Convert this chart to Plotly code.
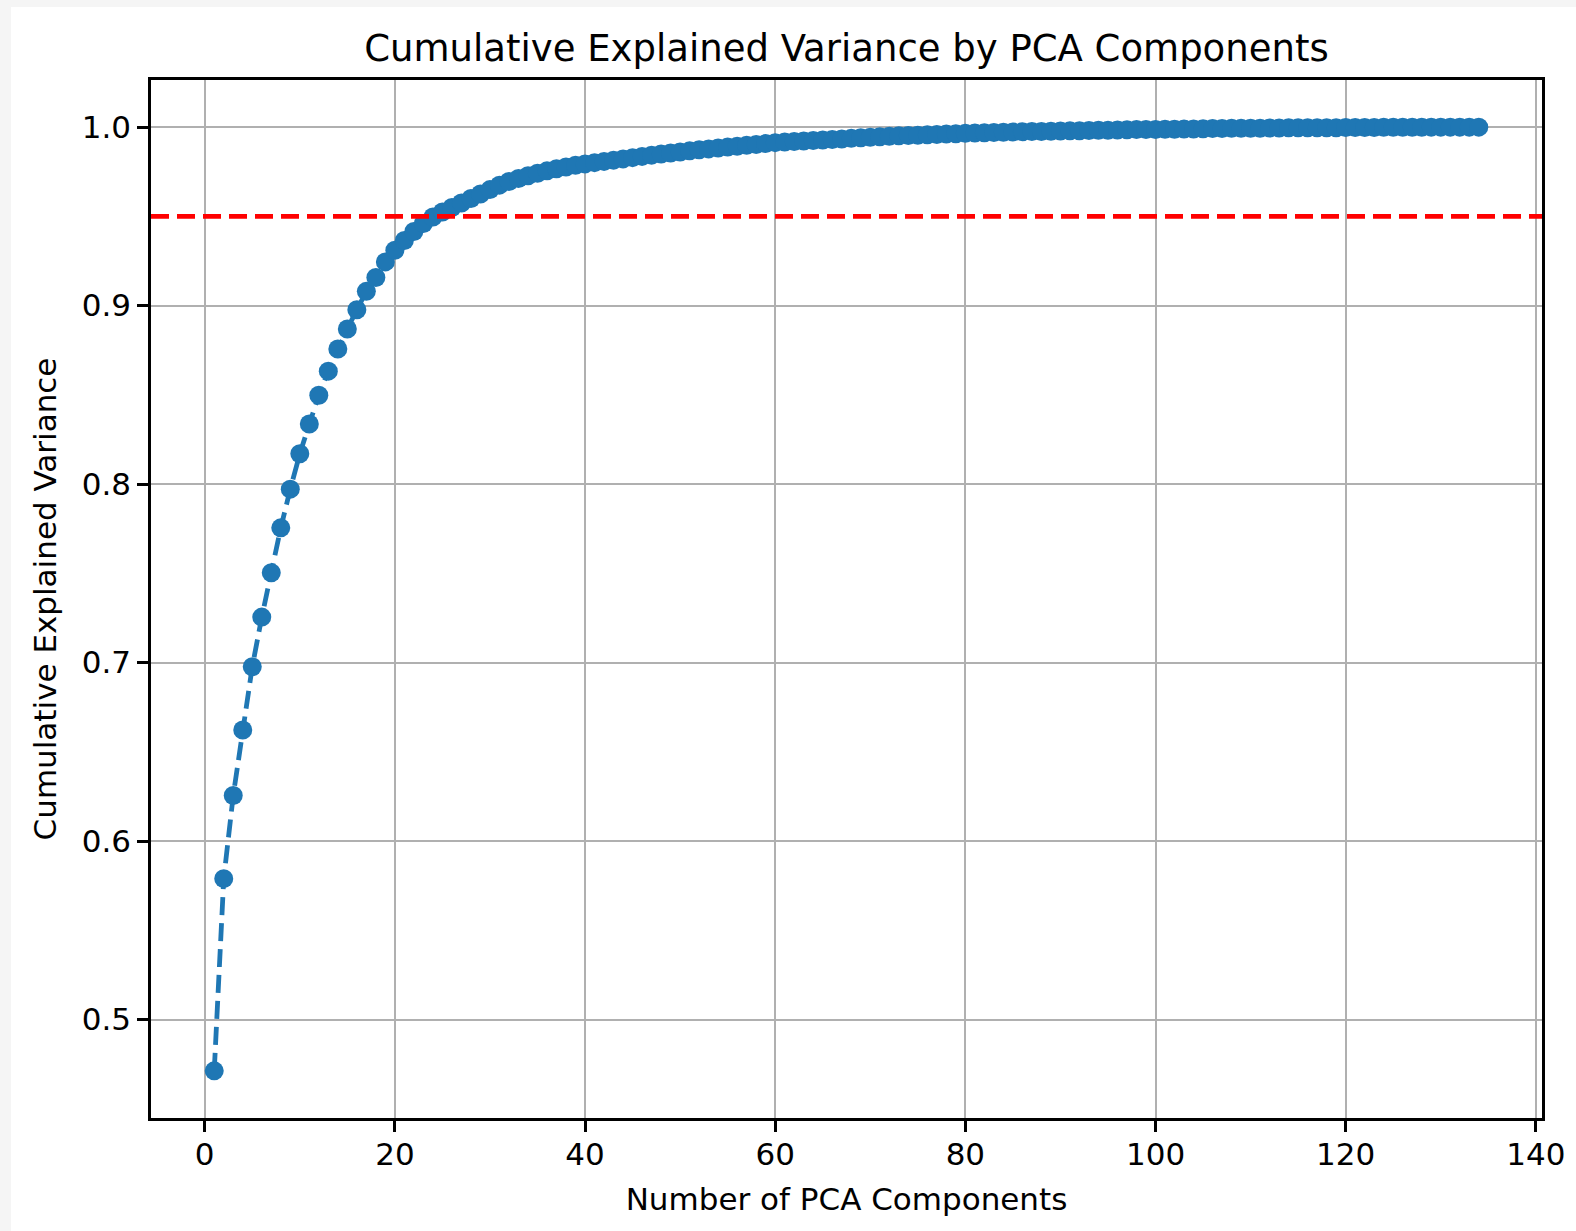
import plotly.graph_objects as go

components = list(range(1, 135))
cum_var = [
    0.4713, 0.5790, 0.6256, 0.6623, 0.6977, 0.7255, 0.7504, 0.7755, 0.7972, 0.8170,
    0.8337, 0.8498, 0.8633, 0.8757, 0.8869, 0.8977, 0.9080, 0.9158, 0.9245, 0.9310,
    0.9365, 0.9415, 0.9460, 0.9497, 0.9525, 0.9550, 0.9575, 0.9600, 0.9625, 0.9650,
    0.9675, 0.9695, 0.9712, 0.9728, 0.9742, 0.9755, 0.9767, 0.9777, 0.9786, 0.9794,
    0.9801, 0.9808, 0.9815, 0.9822, 0.9829, 0.9836, 0.9843, 0.9849, 0.9855, 0.9861,
    0.9867, 0.9873, 0.9878, 0.9883, 0.9888, 0.9893, 0.9898, 0.9903, 0.9908, 0.9913,
    0.9916, 0.9919, 0.9922, 0.9925, 0.9928, 0.9931, 0.9934, 0.9937, 0.9940, 0.9943,
    0.9946, 0.9949, 0.9951, 0.9953, 0.9955, 0.9957, 0.9959, 0.9961, 0.9963, 0.9965,
    0.9967, 0.9968, 0.9970, 0.9971, 0.9973, 0.9974, 0.9975, 0.9976, 0.9977, 0.9978,
    0.9979, 0.9980, 0.9981, 0.9982, 0.9983, 0.9984, 0.9985, 0.9986, 0.9987, 0.9987,
    0.9988, 0.9988, 0.9989, 0.9990, 0.9991, 0.9992, 0.9992, 0.9993, 0.9993, 0.9994,
    0.9994, 0.9995, 0.9995, 0.9996, 0.9996, 0.9996, 0.9997, 0.9997, 0.9997, 0.9998,
    0.9998, 0.9998, 0.9998, 0.9999, 0.9999, 0.9999, 0.9999, 0.9999, 1.0000, 1.0000,
    1.0000, 1.0000, 1.0000, 1.0000,
]
threshold = 0.95
x_ticks = [0, 20, 40, 60, 80, 100, 120, 140]
y_ticks = [0.5, 0.6, 0.7, 0.8, 0.9, 1.0]

BLUE = "#1f77b4"
FONT = "DejaVu Sans, Verdana, sans-serif"

fig = go.Figure()
fig.add_trace(go.Scatter(
    x=components, y=cum_var, mode="lines+markers",
    line=dict(color=BLUE, width=4.8, dash="18px,8px"),
    marker=dict(color=BLUE, size=19, line=dict(width=0)),
    showlegend=False,
))

# red threshold line across the full axes width
fig.add_shape(type="line", xref="paper", x0=0, x1=1, yref="y", y0=threshold, y1=threshold,
              line=dict(color="#ff0000", width=4.8, dash="18px,8px"), layer="above")

# light gray page edges (left and top strips)
W, H = 1576, 1231
L, R, T, B = 151, 34, 80, 113
pw, ph = W - L - R, H - T - B
fig.add_shape(type="rect", xref="paper", yref="paper",
              x0=-L / pw, x1=(11 - L) / pw, y0=-B / ph, y1=1 + T / ph,
              fillcolor="#f5f5f5", line=dict(width=0), layer="below")
fig.add_shape(type="rect", xref="paper", yref="paper",
              x0=-L / pw, x1=1 + R / pw, y0=1 + (T - 7) / ph, y1=1 + T / ph,
              fillcolor="#f5f5f5", line=dict(width=0), layer="below")

axis_common = dict(
    showline=True, mirror=True, linecolor="black", linewidth=2.5,
    ticks="outside", ticklen=11, tickwidth=2.5, tickcolor="black",
    showgrid=True, gridcolor="#b0b0b0", gridwidth=2,
    zeroline=False, tickfont=dict(family=FONT, size=31, color="black"),
)

fig.update_layout(
    width=W, height=H,
    margin=dict(l=L, r=R, t=T, b=B),
    paper_bgcolor="white", plot_bgcolor="white",
    font=dict(family=FONT, color="black"),
    title=dict(text="Cumulative Explained Variance by PCA Components",
               font=dict(family=FONT, size=37, color="black"),
               x=0.5, xanchor="center", xref="paper",
               y=1, yanchor="bottom", yref="paper", pad=dict(b=19)),
    xaxis=dict(range=[-5.65, 140.65], tickvals=x_ticks, ticklabelstandoff=-4,
               title=dict(text="Number of PCA Components", font=dict(family=FONT, size=31), standoff=18),
               **axis_common),
    yaxis=dict(range=[0.4449, 1.0264], tickvals=y_ticks, tickformat=".1f",
               title=dict(text="Cumulative Explained Variance", font=dict(family=FONT, size=31), standoff=16),
               **axis_common),
)

fig.write_html(
    "out.html",
    config={"displayModeBar": False},
    post_script="document.body.style.margin='0';document.body.style.overflow='hidden';",
)
